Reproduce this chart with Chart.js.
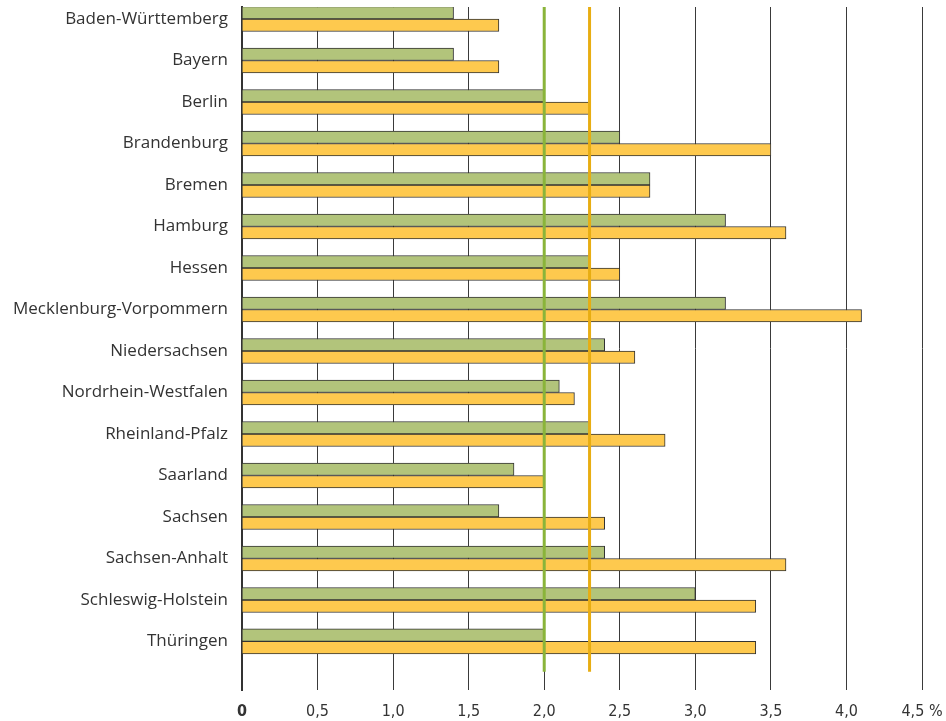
<!DOCTYPE html>
<html>
<head>
<meta charset="utf-8">
<script src="https://cdn.jsdelivr.net/npm/chart.js@4"></script>
<style>
  body { margin: 0; background: #fff; }
</style>
</head>
<body>
<canvas id="myChart" width="946" height="721"></canvas>
<script>
// Länder, two series (green / yellow) and two reference values
var states = [
  "Baden-Württemberg", "Bayern", "Berlin", "Brandenburg", "Bremen", "Hamburg",
  "Hessen", "Mecklenburg-Vorpommern", "Niedersachsen", "Nordrhein-Westfalen",
  "Rheinland-Pfalz", "Saarland", "Sachsen", "Sachsen-Anhalt",
  "Schleswig-Holstein", "Thüringen"
];
var greenValues  = [1.4, 1.4, 2.0, 2.5, 2.7, 3.2, 2.3, 3.2, 2.4, 2.1, 2.3, 1.8, 1.7, 2.4, 3.0, 2.0];
var yellowValues = [1.7, 1.7, 2.3, 3.5, 2.7, 3.6, 2.5, 4.1, 2.6, 2.2, 2.8, 2.0, 2.4, 3.6, 3.4, 3.4];
var greenRef = 2.0;
var yellowRef = 2.3;
var xTicks = [0, 0.5, 1.0, 1.5, 2.0, 2.5, 3.0, 3.5, 4.0, 4.5];

var yTop = -0.29;     // axis range in category units
var yBottom = 16.17;
var refLineEnd = 15.73;

function toPoints(values) {
  return values.map(function (v, i) { return { x: v, y: i }; });
}

function refLine(value) {
  return [{ x: value, y: yTop }, { x: value, y: refLineEnd }];
}

new Chart("myChart", {
  data: {
    datasets: [
      {
        type: "line",
        data: refLine(greenRef),
        borderColor: "#8ab43a",
        borderWidth: 3,
        pointRadius: 0,
        order: 0
      },
      {
        type: "line",
        data: refLine(yellowRef),
        borderColor: "#e8ad12",
        borderWidth: 3,
        pointRadius: 0,
        order: 0
      },
      {
        type: "bar",
        data: toPoints(greenValues),
        backgroundColor: "#b2c47b",
        borderColor: "#333",
        borderWidth: 1,
        barThickness: 12.5,
        order: 1
      },
      {
        type: "bar",
        data: toPoints(yellowValues),
        backgroundColor: "#fec94e",
        borderColor: "#333",
        borderWidth: 1,
        barThickness: 12.5,
        order: 1
      }
    ]
  },
  options: {
    indexAxis: "y",
    responsive: false,
    animation: false,
    layout: { padding: { top: 7, right: 24, bottom: 2, left: 0 } },
    plugins: {
      legend: { display: false },
      tooltip: { enabled: false }
    },
    scales: {
      x: {
        type: "linear",
        min: 0,
        max: 4.5,
        afterBuildTicks: function (scale) {
          scale.ticks = xTicks.map(function (v) { return { value: v }; });
        },
        afterFit: function (scale) {
          scale.height = 29;
          scale.paddingLeft = 0;
          scale.paddingRight = 0;
        },
        grid: { color: "#3a3a3a", lineWidth: 1, drawTicks: false },
        border: { display: false },
        ticks: {
          padding: 12,
          color: "#333",
          font: function (ctx) {
            return {
              family: "'Liberation Sans Narrow', 'DejaVu Sans Condensed', sans-serif",
              size: 16,
              weight: ctx.tick && ctx.tick.value === 0 ? "bold" : "normal"
            };
          },
          callback: function (v) {
            if (v === 0) return "0";
            var s = v.toFixed(1).replace(".", ",");
            return v === 4.5 ? s + " %" : s;
          }
        }
      },
      y: {
        type: "linear",
        reverse: true,
        offset: false,
        min: yTop,
        max: yBottom,
        afterBuildTicks: function (scale) {
          scale.ticks = states.map(function (s, i) { return { value: i }; });
        },
        afterFit: function (scale) {
          scale.width = 242;
          scale.paddingTop = 0;
          scale.paddingBottom = 0;
        },
        grid: { display: false },
        border: { display: true, color: "#333", width: 2 },
        ticks: {
          padding: 6,
          color: "#333",
          font: { family: "'Open Sans', sans-serif", size: 17 },
          callback: function (v) { return states[v]; }
        }
      }
    }
  }
});
</script>
</body>
</html>
